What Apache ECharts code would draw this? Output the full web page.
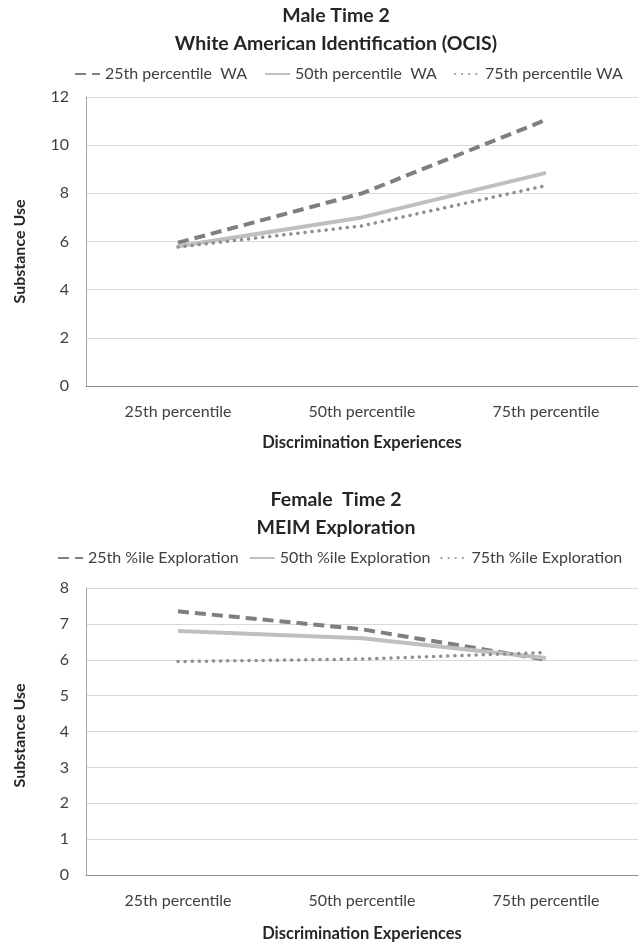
<!DOCTYPE html>
<html>
<head>
<meta charset="utf-8">
<script src="https://cdn.jsdelivr.net/npm/echarts@6/dist/echarts.min.js"></script>
<style>
html,body{margin:0;padding:0;background:#fff;}
#chart{width:640px;height:944px;}
</style>
</head>
<body>
<div id="chart"></div>
<script>
// ---- Data ----
var categories = ['25th percentile', '50th percentile', '75th percentile'];

var maleTitle = 'Male Time 2\nWhite American Identification (OCIS)';
var maleNames = ['25th percentile  WA', '50th percentile  WA', '75th percentile WA'];
var male25 = [5.95, 8.0, 11.05];
var male50 = [5.8, 7.0, 8.85];
var male75 = [5.77, 6.65, 8.32];

var femaleTitle = 'Female  Time 2\nMEIM Exploration';
var femaleNames = ['25th %ile Exploration', '50th %ile Exploration', '75th %ile Exploration'];
var female25 = [7.35, 6.85, 6.0];
var female50 = [6.8, 6.6, 6.05];
var female75 = [5.95, 6.02, 6.2];

var xAxisName = 'Discrimination Experiences';
var yAxisName = 'Substance Use';

// ---- Styles ----
var FONT = 'Lato, "Open Sans", sans-serif';
var TXT = '#404040';
var styles = [
  {color: '#7f7f7f', width: 4, type: [11, 6], cap: 'butt'},
  {color: '#bfbfbf', width: 4, type: 'solid', cap: 'butt'},
  {color: '#8f8f8f', width: 3.5, type: [0.1, 7], cap: 'round'}
];

function mkSeries(name, data, idx, st) {
  return {
    name: name, type: 'line', data: data,
    xAxisIndex: idx, yAxisIndex: idx,
    symbol: 'none', smooth: false,
    lineStyle: {color: st.color, width: st.width, type: st.type, cap: st.cap},
    itemStyle: {color: st.color},
    emphasis: {disabled: true}, animation: false
  };
}

function xAx(idx) {
  return {
    type: 'category', gridIndex: idx, data: categories, boundaryGap: true,
    axisLine: {lineStyle: {color: '#8c8c8c', width: 1}},
    axisTick: {show: false},
    axisLabel: {color: TXT, fontSize: 16, fontFamily: FONT, margin: 18},
    name: xAxisName, nameLocation: 'middle', nameGap: idx === 0 ? 48 : 50,
    nameTextStyle: {color: '#262626', fontSize: 16.5, fontWeight: 'bold', fontFamily: FONT}
  };
}
function yAx(idx, max) {
  return {
    type: 'value', gridIndex: idx, min: 0, max: max, interval: idx === 0 ? 2 : 1,
    axisLine: {show: true, lineStyle: {color: '#a6a6a6', width: 1}},
    axisTick: {show: false},
    splitLine: {lineStyle: {color: '#d9d9d9', width: 1}},
    axisLabel: {color: TXT, fontSize: 16, fontFamily: FONT, margin: 17},
    name: yAxisName, nameLocation: 'middle', nameGap: 58, nameRotate: 90,
    nameTextStyle: {color: '#262626', fontSize: 16, fontWeight: 'bold', fontFamily: FONT,
                    padding: idx === 0 ? [0, 20, 0, 0] : [0, 8, 0, 0]}
  };
}

var legendBase = {
  itemWidth: 25, itemHeight: 2, width: 600,
  itemStyle: {opacity: 0, borderWidth: 0},
  textStyle: {color: TXT, fontSize: 16, fontFamily: FONT}
};

var chart = echarts.init(document.getElementById('chart'), null, {renderer: 'canvas'});
chart.setOption({
  backgroundColor: '#ffffff',
  animation: false,
  title: [
    {text: maleTitle, left: 331, top: -3, textAlign: 'center',
     textStyle: {color: '#262626', fontSize: 19.5, fontWeight: 'bold', fontFamily: FONT, lineHeight: 28}},
    {text: femaleTitle, left: 331, top: 481, textAlign: 'center',
     textStyle: {color: '#262626', fontSize: 19.5, fontWeight: 'bold', fontFamily: FONT, lineHeight: 28}}
  ],
  legend: [
    Object.assign({}, legendBase, {data: maleNames, left: 69, top: 61, itemGap: 17}),
    Object.assign({}, legendBase, {data: femaleNames, left: 52, top: 545, itemGap: 10})
  ],
  grid: [
    {left: 86, right: 2, top: 97, height: 289, containLabel: false},
    {left: 86, right: 2, top: 588, height: 287, containLabel: false}
  ],
  xAxis: [xAx(0), xAx(1)],
  yAxis: [yAx(0, 12), yAx(1, 8)],
  series: [
    mkSeries(maleNames[0], male25, 0, styles[0]),
    mkSeries(maleNames[1], male50, 0, styles[1]),
    mkSeries(maleNames[2], male75, 0, styles[2]),
    mkSeries(femaleNames[0], female25, 1, styles[0]),
    mkSeries(femaleNames[1], female50, 1, styles[1]),
    mkSeries(femaleNames[2], female75, 1, styles[2])
  ]
});
</script>
</body>
</html>
